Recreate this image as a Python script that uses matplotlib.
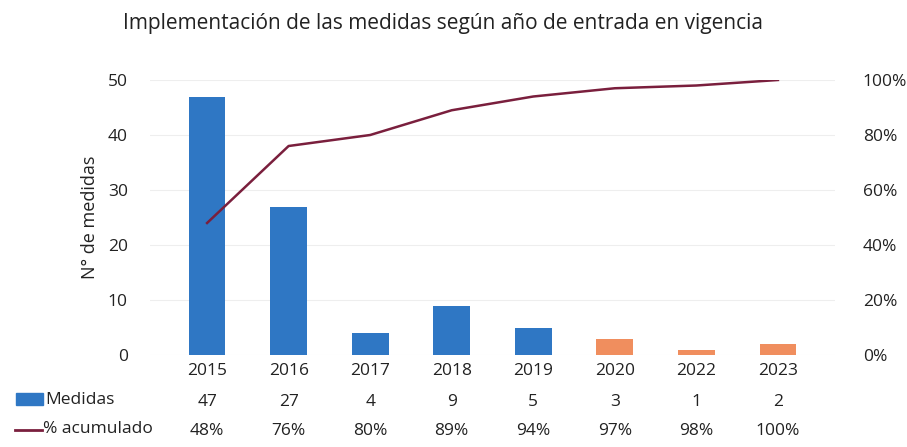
import matplotlib.pyplot as plt
import matplotlib.transforms as mtransforms
from matplotlib.patches import Rectangle
from matplotlib.lines import Line2D

plt.rcParams['font.family'] = ['Open Sans', 'DejaVu Sans']

# datos
anios = ['2015', '2016', '2017', '2018', '2019', '2020', '2022', '2023']
medidas = [47, 27, 4, 9, 5, 3, 1, 2]
acumulado = [48, 76, 80, 89, 94, 97, 98, 100]
colores = ['#2F77C4'] * 5 + ['#F08E5E'] * 3

fs = 12.5

fig = plt.figure(figsize=(9.07, 4.47), dpi=100)
ax = fig.add_axes([150 / 907, 1 - 355 / 447, 685 / 907, 275 / 447])

x = list(range(len(anios)))
ax.bar(x, medidas, width=0.45, color=colores, zorder=2)
ax.set_ylim(0, 50)
ax.set_xlim(-0.7, len(anios) - 0.3)
ax.set_yticks([0, 10, 20, 30, 40, 50])
ax.set_xticks(x)
ax.set_xticklabels(anios)
ax.tick_params(axis='both', length=0, labelsize=fs, colors='#222222')
ax.tick_params(axis='y', pad=16)
ax.tick_params(axis='x', pad=6)
ax.grid(axis='y', color='#eeeeee', linewidth=0.8, zorder=0)
ax.set_ylabel('N° de medidas', fontsize=13, color='#222222', labelpad=6)
for s in ax.spines.values():
    s.set_visible(False)

ax2 = ax.twinx()
ax2.plot(x, acumulado, color='#7A1F3D', linewidth=1.8, zorder=3)
ax2.set_ylim(0, 100)
ax2.set_yticks([0, 20, 40, 60, 80, 100])
ax2.set_yticklabels([f'{v}%' for v in [0, 20, 40, 60, 80, 100]])
ax2.tick_params(axis='y', length=0, labelsize=fs, pad=20, colors='#222222')
for s in ax2.spines.values():
    s.set_visible(False)

# tabla de datos
trans = mtransforms.blended_transform_factory(ax.transData, ax.transAxes)
for i in x:
    ax.text(i, -0.171, str(medidas[i]), transform=trans, ha='center', va='center',
            fontsize=fs, color='#222222')
    ax.text(i, -0.275, f'{acumulado[i]}%', transform=trans, ha='center', va='center',
            fontsize=fs, color='#222222')

fig.patches.append(Rectangle((16 / 907, 1 - 405 / 447), 27 / 907, 12 / 447,
                             transform=fig.transFigure, color='#2F77C4'))
fig.lines.append(Line2D([15 / 907, 42 / 907], [1 - 430 / 447, 1 - 430 / 447],
                        transform=fig.transFigure, color='#7A1F3D', linewidth=2))
fig.text(45 / 907, 1 - 400 / 447, 'Medidas', ha='left', va='center', fontsize=fs, color='#222222')
fig.text(43 / 907, 1 - 429 / 447, '% acumulado', ha='left', va='center', fontsize=fs, color='#222222')

fig.text(443 / 907, 1 - 24 / 447, 'Implementación de las medidas según año de entrada en vigencia',
         ha='center', va='center', fontsize=15, color='#222222')

fig.savefig('out.png', dpi=100)
